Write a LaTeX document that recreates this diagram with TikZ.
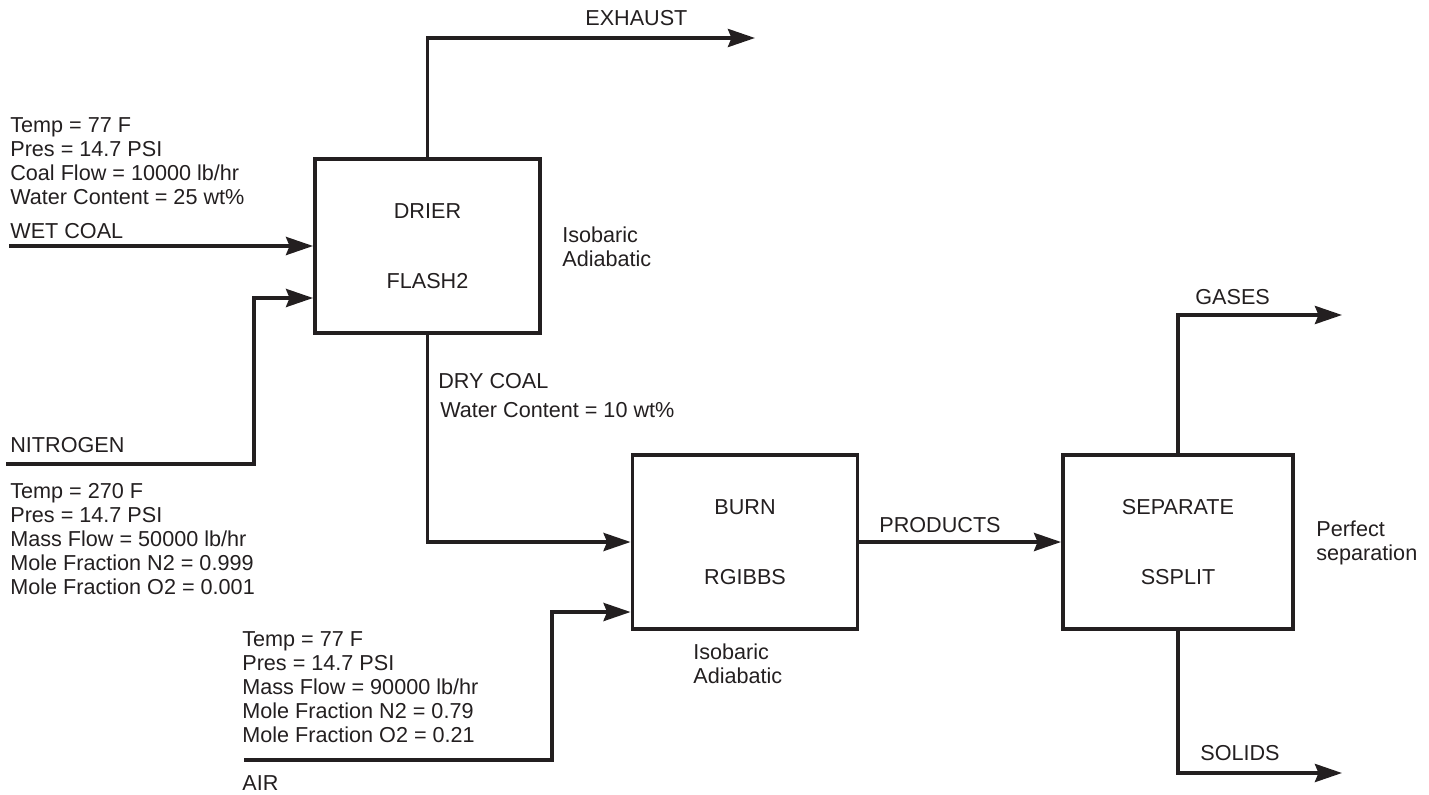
\documentclass[tikz,border=0pt]{standalone}
\usepackage{fontspec}
\setmainfont{Liberation Sans}
\usepackage{tikz}
\usetikzlibrary{arrows.meta,calc,positioning}
\definecolor{lineBlack}{HTML}{231F20}

\begin{document}
\begin{tikzpicture}[>={Stealth[length=0.54cm,width=0.36cm,inset=0.07cm]},x=0.02cm,y=-0.02cm,
    every node/.style={font=\fontsize{12.3}{13.7}\selectfont,text=lineBlack},
    unit/.style={draw=lineBlack,line width=2.2pt,minimum width=4.5cm,minimum height=3.48cm,align=center,inner sep=0pt},
    stream/.style={draw=lineBlack,line width=2.2pt,->},
    note/.style={anchor=west,align=left,inner sep=0pt}]
    \useasboundingbox (0,0) rectangle (1429,794);
    % unit blocks
    \node[unit] (drier) at (427.5,246) {DRIER\\[0.92cm]FLASH2};
    \node[unit] (burn) at (745,542) {BURN\\[0.92cm]RGIBBS};
    \node[unit,minimum width=4.6cm] (separate) at (1178,542) {SEPARATE\\[0.92cm]SSPLIT};
    % stream labels and data
    \node[note] (wetData) at (10,161) {Temp = 77 F\\Pres = 14.7 PSI\\Coal Flow = 10000 lb/hr\\Water Content = 25 wt\%};
    \node[note] (wetLbl) at (10,231) {WET COAL};
    \node[note] (n2Lbl) at (10,445) {NITROGEN};
    \node[note] (n2Data) at (10,539) {Temp = 270 F\\Pres = 14.7 PSI\\Mass Flow = 50000 lb/hr\\Mole Fraction N2 = 0.999\\Mole Fraction O2 = 0.001};
    \node[note] (exhLbl) at (585,18) {EXHAUST};
    \node[note] (dryLbl) at (438,381) {DRY COAL};
    \node[note] (dryData) at (440,410) {Water Content = 10 wt\%};
    \node[note] (drierNote) at (562,247) {Isobaric\\Adiabatic};
    \node[note] (burnNote) at (693,664) {Isobaric\\Adiabatic};
    \node[note] (prodLbl) at (879,525) {PRODUCTS};
    \node[note] (airData) at (242,687) {Temp = 77 F\\Pres = 14.7 PSI\\Mass Flow = 90000 lb/hr\\Mole Fraction N2 = 0.79\\Mole Fraction O2 = 0.21};
    \node[note] (airLbl) at (242,783) {AIR};
    \node[note] (gasLbl) at (1195,297) {GASES};
    \node[note] (solLbl) at (1200,753) {SOLIDS};
    \node[note] (sepNote) at (1316,543) {Perfect\\separation};
    % stream ends
    \coordinate (exhEnd) at (755,38);
    \coordinate (wetIn) at (9,246);
    \coordinate (n2In) at (6,464);
    \coordinate (n2Bend) at (254,298);
    \coordinate (airIn) at (244,760);
    \coordinate (airBend) at (552,612);
    \coordinate (gasEnd) at (1342,315);
    \coordinate (solEnd) at (1342,773);
    % streams
    \draw[stream] (drier.north) |- (exhEnd);
    \draw[stream] (wetIn) -- (drier.west);
    \draw[stream] (n2In) -| (n2Bend) -- (n2Bend -| drier.west);
    \draw[stream] (drier.south) |- (burn.west);
    \draw[stream] (airIn) -| (airBend) -- (airBend -| burn.west);
    \draw[stream] (burn.east) -- (separate.west);
    \draw[stream] (separate.north) |- (gasEnd);
    \draw[stream] (separate.south) |- (solEnd);
\end{tikzpicture}
\end{document}
